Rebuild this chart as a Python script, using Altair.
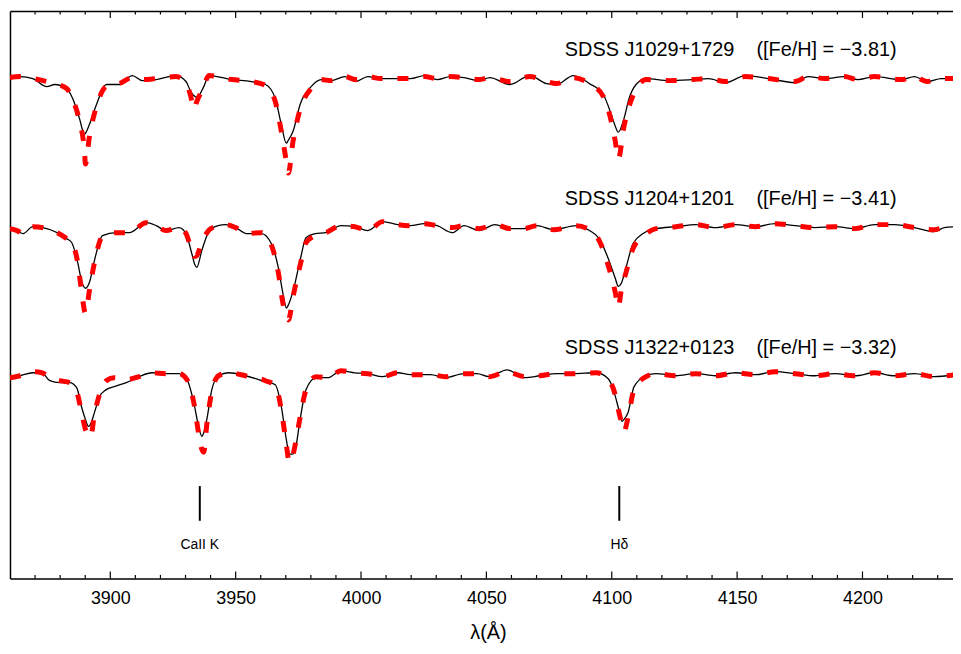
import altair as alt
import pandas as pd

FONT = "Liberation Sans"

wl_1029 = [3860.0, 3864.0, 3869.1, 3874.7, 3877.8, 3882.6, 3885.0, 3887.7, 3889.7, 3890.1,
           3891.7, 3894.5, 3898.4, 3903.6, 3908.8, 3912.7, 3918.3, 3926.2, 3930.2, 3932.1,
           3933.3, 3934.5, 3937.3, 3939.3, 3948.4, 3956.3, 3961.9, 3965.8, 3968.2, 3970.2,
           3971.0, 3972.9, 3975.7, 3980.1, 3984.1, 3988.0, 3993.6, 3997.9, 4002.7, 4007.8,
           4014.6, 4019.7, 4025.3, 4030.4, 4035.6, 4041.1, 4047.1, 4051.4, 4059.4, 4067.3,
           4074.0, 4078.0, 4084.7, 4091.1, 4096.6, 4099.8, 4101.4, 4102.6, 4104.9, 4106.9,
           4109.7, 4113.7, 4122.8, 4132.3, 4138.6, 4145.4, 4153.3, 4162.4, 4173.1, 4178.3,
           4185.0, 4192.9, 4198.1, 4204.8, 4215.5, 4220.7, 4225.8, 4231.4, 4237.0]
obs_1029 = [0.993, 1.000, 0.987, 0.933, 0.947, 0.920, 0.853, 0.720, 0.613, 0.620,
            0.680, 0.813, 0.947, 0.947, 1.007, 0.973, 0.980, 1.007, 0.967, 0.900,
            0.873, 0.860, 0.933, 1.007, 0.980, 0.967, 0.947, 0.853, 0.680, 0.553,
            0.573, 0.633, 0.813, 0.933, 0.980, 0.973, 1.000, 0.967, 1.000, 0.987,
            0.987, 0.987, 1.007, 0.980, 1.000, 0.993, 0.973, 0.993, 0.947, 1.007,
            0.953, 0.947, 1.007, 0.953, 0.880, 0.747, 0.667, 0.627, 0.720, 0.853,
            0.947, 0.987, 0.973, 0.980, 0.987, 0.960, 1.007, 0.987, 0.960, 1.000,
            0.987, 1.000, 0.980, 1.000, 0.980, 1.000, 0.967, 0.987, 0.987]
fit_1029 = [0.993, 1.000, 0.987, 0.967, 0.953, 0.920, 0.847, 0.700, 0.500, 0.413,
            0.600, 0.800, 0.933, 0.953, 0.993, 0.980, 0.987, 1.000, 0.953, 0.867,
            0.780, 0.833, 0.933, 1.007, 0.980, 0.967, 0.940, 0.833, 0.633, 0.433,
            0.353, 0.567, 0.780, 0.920, 0.980, 0.973, 1.000, 0.980, 1.000, 0.987,
            0.987, 0.987, 1.000, 0.987, 1.000, 0.993, 0.980, 0.993, 0.967, 1.000,
            0.967, 0.953, 0.993, 0.953, 0.867, 0.700, 0.567, 0.447, 0.667, 0.800,
            0.913, 0.980, 0.973, 0.980, 0.987, 0.967, 1.000, 0.987, 0.967, 1.000,
            0.987, 1.000, 0.980, 1.000, 0.980, 1.000, 0.967, 0.987, 0.987]

wl_1204 = [3860.0, 3862.8, 3865.2, 3869.1, 3874.7, 3882.6, 3884.6, 3887.0, 3888.5, 3890.1,
           3891.7, 3893.7, 3896.9, 3902.4, 3907.6, 3914.3, 3918.3, 3922.2, 3927.4, 3930.2,
           3932.5, 3933.7, 3934.5, 3936.5, 3940.1, 3946.0, 3950.0, 3954.3, 3960.3, 3964.2,
           3967.0, 3969.0, 3970.2, 3971.0, 3973.0, 3975.7, 3978.1, 3981.7, 3986.0, 3992.0,
           3997.5, 4002.7, 4008.6, 4014.6, 4019.7, 4025.3, 4030.4, 4036.4, 4041.1, 4047.1,
           4053.4, 4059.4, 4064.9, 4070.1, 4076.8, 4085.9, 4091.1, 4095.0, 4098.6, 4101.4,
           4102.6, 4103.8, 4105.7, 4108.5, 4112.5, 4117.6, 4125.6, 4133.5, 4141.4, 4149.3,
           4157.3, 4165.2, 4173.1, 4181.0, 4189.0, 4196.9, 4204.8, 4212.8, 4220.7, 4228.6,
           4232.6, 4237.0]
obs_1204 = [0.980, 0.967, 0.947, 0.993, 0.980, 0.913, 0.887, 0.753, 0.633, 0.580,
            0.620, 0.767, 0.933, 0.953, 0.953, 1.020, 1.000, 0.967, 0.987, 0.947,
            0.813, 0.740, 0.720, 0.833, 0.980, 1.007, 0.987, 0.947, 0.947, 0.880,
            0.720, 0.533, 0.447, 0.467, 0.567, 0.767, 0.920, 0.947, 0.953, 1.000,
            0.993, 0.967, 1.027, 1.007, 1.000, 1.013, 1.000, 0.953, 1.000, 0.967,
            1.007, 0.980, 0.980, 1.000, 0.973, 1.000, 0.967, 0.913, 0.780, 0.647,
            0.593, 0.613, 0.720, 0.880, 0.947, 0.980, 0.993, 1.007, 0.987, 1.007,
            0.993, 1.013, 1.000, 0.987, 0.993, 0.980, 1.007, 1.007, 0.987, 0.960,
            0.987, 0.993]
fit_1204 = [0.980, 0.967, 0.947, 0.993, 0.980, 0.913, 0.887, 0.753, 0.567, 0.413,
            0.567, 0.753, 0.927, 0.953, 0.953, 1.020, 1.000, 0.967, 0.987, 0.947,
            0.833, 0.793, 0.800, 0.887, 0.980, 1.007, 0.987, 0.947, 0.953, 0.873,
            0.687, 0.467, 0.400, 0.367, 0.533, 0.733, 0.887, 0.933, 0.953, 1.000,
            0.993, 0.967, 1.027, 1.007, 1.000, 1.013, 1.000, 0.987, 1.000, 0.980,
            1.007, 0.980, 0.980, 1.000, 0.973, 1.000, 0.973, 0.900, 0.733, 0.553,
            0.453, 0.567, 0.687, 0.847, 0.927, 0.980, 0.993, 1.007, 0.987, 1.007,
            0.993, 1.013, 1.000, 0.987, 0.993, 0.980, 1.007, 1.007, 0.987, 0.973,
            0.987, 0.993]

wl_1322 = [3860.0, 3864.0, 3869.1, 3872.7, 3875.9, 3879.8, 3883.8, 3886.6, 3888.5, 3890.1,
           3891.3, 3892.1, 3893.7, 3895.7, 3898.4, 3901.6, 3906.4, 3911.5, 3916.7, 3922.2,
           3927.4, 3930.6, 3933.3, 3935.3, 3936.5, 3937.3, 3938.5, 3940.5, 3943.2, 3947.2,
           3953.9, 3961.9, 3965.8, 3968.2, 3970.2, 3971.4, 3972.6, 3973.8, 3975.7, 3978.1,
           3982.1, 3986.8, 3992.0, 3997.5, 4002.7, 4008.6, 4014.6, 4019.7, 4027.7, 4033.6,
           4041.1, 4046.3, 4051.0, 4058.2, 4065.3, 4071.3, 4078.0, 4084.7, 4093.8, 4098.6,
           4101.0, 4102.6, 4104.1, 4104.9, 4106.5, 4108.9, 4113.7, 4117.6, 4125.6, 4133.5,
           4141.4, 4149.3, 4157.3, 4165.2, 4173.1, 4181.0, 4189.0, 4196.9, 4204.8, 4212.8,
           4220.7, 4228.6, 4237.0]
obs_1322 = [0.980, 0.993, 1.013, 1.013, 0.960, 0.947, 0.947, 0.913, 0.787, 0.700,
            0.653, 0.667, 0.747, 0.853, 0.900, 0.920, 0.947, 0.987, 1.013, 1.007,
            1.007, 0.967, 0.813, 0.647, 0.587, 0.613, 0.700, 0.900, 0.993, 1.013,
            0.993, 0.953, 0.933, 0.787, 0.567, 0.467, 0.467, 0.500, 0.700, 0.900,
            0.980, 0.980, 1.027, 1.013, 1.007, 0.987, 1.013, 1.000, 1.000, 0.980,
            1.007, 1.007, 0.987, 1.033, 0.980, 0.993, 1.007, 1.007, 1.013, 0.973,
            0.880, 0.780, 0.687, 0.700, 0.747, 0.920, 0.993, 1.007, 0.993, 1.007,
            0.993, 1.013, 1.000, 1.020, 1.007, 0.993, 1.007, 0.993, 1.013, 0.993,
            1.007, 0.987, 1.000]
fit_1322 = [0.980, 0.993, 1.020, 1.013, 0.980, 0.960, 0.947, 0.887, 0.753, 0.633,
            0.593, 0.580, 0.733, 0.867, 0.960, 0.980, 0.967, 0.987, 1.013, 1.007,
            1.007, 0.967, 0.813, 0.600, 0.500, 0.480, 0.667, 0.887, 0.993, 1.013,
            0.993, 0.960, 0.927, 0.767, 0.533, 0.413, 0.447, 0.533, 0.713, 0.900,
            0.987, 0.980, 1.027, 1.013, 1.007, 0.987, 1.013, 1.000, 1.000, 0.987,
            1.007, 1.007, 0.987, 1.020, 0.987, 0.993, 1.007, 1.007, 1.013, 0.967,
            0.887, 0.767, 0.667, 0.620, 0.713, 0.900, 0.987, 1.007, 0.993, 1.007,
            0.993, 1.013, 1.000, 1.020, 1.007, 0.993, 1.007, 0.993, 1.013, 0.993,
            1.007, 0.987, 1.000]

stars = ["SDSS J1029+1729", "SDSS J1204+1201", "SDSS J1322+0123"]
feh = ["−3.81", "−3.41", "−3.32"]
shift = [2, 1, 0]

line_ids = ["CaII K", "Hδ"]
line_wl = [3935.7, 4103.0]

major = [3900, 3950, 4000, 4050, 4100, 4150, 4200]
minor = [v for v in range(3870, 4240, 10) if v not in major]

# %%
Y_LO, Y_HI = -0.3667, 3.44   # 150 px per unit of normalised flux

frames = []
for name, s, w, o, f in zip(stars, shift, [wl_1029, wl_1204, wl_1322],
                            [obs_1029, obs_1204, obs_1322], [fit_1029, fit_1204, fit_1322]):
    frames.append(pd.DataFrame({"star": name, "wl": w,
                                "obs": [v + s for v in o], "fit": [v + s for v in f]}))

gap = "\u00a0" * 4
labels = pd.DataFrame({
    "wl": [4081.3] * 3,
    "y": [s + 1.18 for s in shift],
    "text": [f"{n}{gap}([Fe/H] = {v})" for n, v in zip(stars, feh)],
})
marks = pd.DataFrame({"wl": line_wl, "name": line_ids, "top": 0.253, "bot": 0.02, "ty": -0.14})

# inward ticks on the bottom and top frame lines
tick_rows = []
for vals, length in [(major, 7 / 150), (minor, 3.5 / 150)]:
    for v in vals:
        tick_rows.append({"wl": v, "y0": Y_LO, "y1": Y_LO + length})
        tick_rows.append({"wl": v, "y0": Y_HI - length, "y1": Y_HI})
frame_ticks = pd.DataFrame(tick_rows)

xs = alt.Scale(domain=[3860, 4236.1], nice=False, zero=False)
ys = alt.Scale(domain=[Y_LO, Y_HI], nice=False, zero=False)

x_bottom = alt.Axis(orient="bottom", values=major, format="d", ticks=False, grid=False,
                    domain=True, domainColor="black", domainWidth=1.5, labelFont=FONT,
                    labelFontSize=18, labelColor="black", labelPadding=11, title="λ(Å)",
                    titleFont=FONT, titleFontSize=20, titleFontWeight="normal",
                    titleColor="black", titlePadding=15, titleX=481)
x_top = alt.Axis(orient="top", labels=False, ticks=False, grid=False, domain=True,
                 domainColor="black", domainWidth=1.5, title=None)
y_axis = alt.Axis(orient="left", labels=False, ticks=False, grid=False, domain=True,
                  domainColor="black", domainWidth=1.5, title=None)

layers = []
for i, df in enumerate(frames):
    observed = alt.Chart(df).mark_line(
        color="black", strokeWidth=1.3, interpolate="monotone", clip=True
    ).encode(
        x=alt.X("wl:Q", scale=xs, axis=x_bottom if i == 0 else None),
        y=alt.Y("obs:Q", scale=ys, axis=y_axis),
    )
    model = alt.Chart(df).mark_line(
        color="#ff0000", strokeWidth=5, strokeDash=[11, 15], interpolate="monotone", clip=True
    ).encode(
        x=alt.X("wl:Q", scale=xs, axis=x_top if i == 0 else None),
        y=alt.Y("fit:Q", scale=ys, axis=y_axis),
    )
    layers += [observed, model]

tick_marks = alt.Chart(frame_ticks).mark_rule(color="black", strokeWidth=1.2).encode(
    x=alt.X("wl:Q", scale=xs, axis=None),
    y=alt.Y("y0:Q", scale=ys, axis=y_axis),
    y2="y1:Q",
)
names = alt.Chart(labels).mark_text(
    align="left", baseline="middle", font=FONT, fontSize=20, color="black"
).encode(
    x=alt.X("wl:Q", scale=xs, axis=None),
    y=alt.Y("y:Q", scale=ys, axis=y_axis),
    text="text:N",
)
ticks = alt.Chart(marks).mark_rule(color="black", strokeWidth=2).encode(
    x=alt.X("wl:Q", scale=xs, axis=None),
    y=alt.Y("top:Q", scale=ys, axis=y_axis),
    y2="bot:Q",
)
tick_text = alt.Chart(marks).mark_text(
    align="center", baseline="middle", font=FONT, fontSize=14, color="black"
).encode(
    x=alt.X("wl:Q", scale=xs, axis=None),
    y=alt.Y("ty:Q", scale=ys, axis=y_axis),
    text="name:N",
)

chart = (
    alt.layer(*layers, tick_marks, names, ticks, tick_text)
    .resolve_axis(x="independent")
    .properties(
        width=949,
        height=571,
        autosize=alt.AutoSizeParams(type="none"),
        padding={"left": 2, "top": 1, "right": 0, "bottom": 70},
        background="white",
    )
    .configure_view(stroke=None)
)

chart.save("out.html", embed_options={"renderer": "svg", "actions": False})
